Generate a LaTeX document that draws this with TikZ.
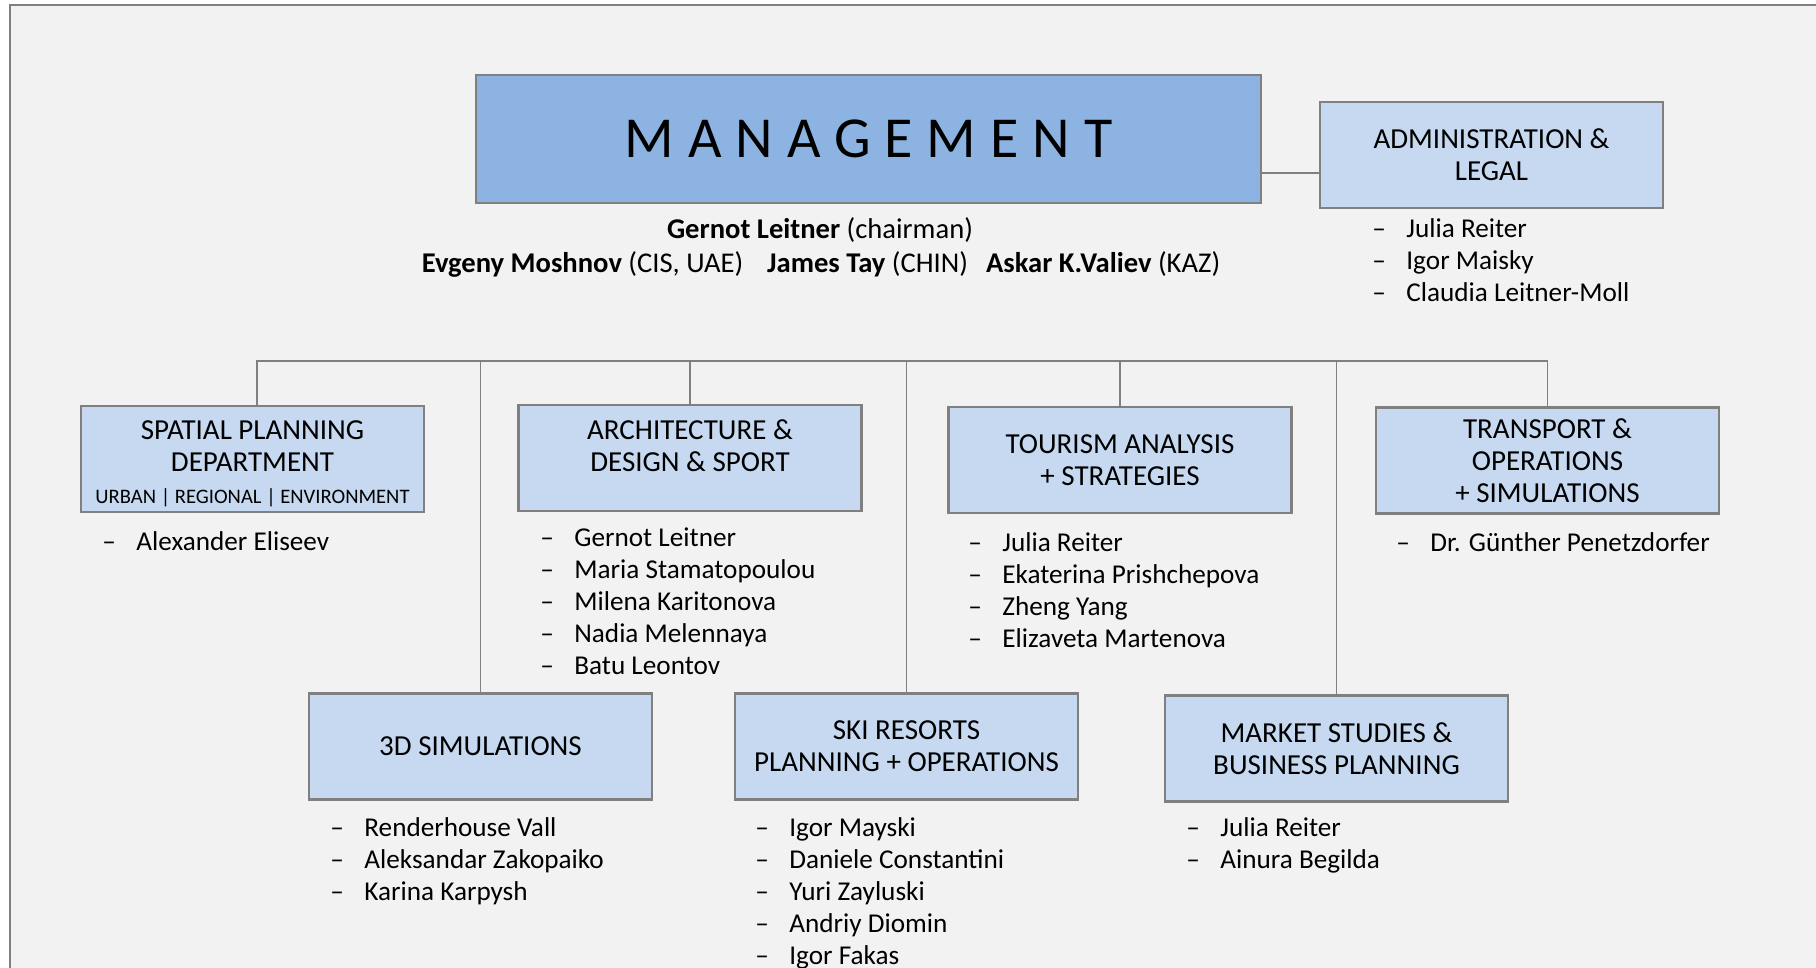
\documentclass[tikz,border=0pt]{standalone}
\usepackage{fontspec}
\setmainfont{Carlito}
\definecolor{unitblue}{HTML}{C6D9F0}
\definecolor{headblue}{HTML}{8DB3E2}
\definecolor{linegray}{HTML}{808080}
\definecolor{pagegray}{HTML}{F2F2F2}
\newcommand{\member}[1]{\strut\makebox[17pt][l]{--}#1}
\newcommand{\unitScale}[0]{0.5pt}

\begin{document}
\begin{tikzpicture}[x=\unitScale, y=-\unitScale]
  \tikzset{unit/.style={draw=linegray, fill=unitblue, line width=1.2pt, minimum width=171.5pt,
      minimum height=53pt, align=center, inner sep=2pt, font=\fontsize{14.5}{16}\selectfont},
    staff/.style={anchor=north west, align=left, inner sep=0pt, font=\fontsize{13.6}{16}\selectfont},
    link/.style={draw=linegray, line width=0.8pt}}
  \clip (0,0) rectangle (1816,968);
  \fill[white] (0,0) rectangle (1816,968);
  \draw[fill=pagegray, draw=linegray, line width=1pt] (10,5) rectangle (1840,990);
  \node[unit, fill=headblue, minimum width=392.5pt, minimum height=64pt, font=\fontsize{29}{34}\selectfont]
    (mgmt) at (868.5,139) {\addfontfeature{LetterSpace=24}MANAGEMENT};
  \node[font=\fontsize{14.3}{16}\selectfont] (chair) at (820,230) {\textbf{Gernot Leitner} (chairman)};
  \node[font=\fontsize{14.3}{16}\selectfont] (board) at (821,264)
    {\textbf{Evgeny Moshnov} (CIS, UAE)\hspace{12pt}\textbf{James Tay} (CHIN)\hspace{9pt}\textbf{Askar K.Valiev} (KAZ)};
  \node[unit] (admin) at (1491.5,155) {ADMINISTRATION \&\\LEGAL};
  \node[unit] (spatial) at (252.5,459) {\mbox{}\\[-1.5pt]SPATIAL PLANNING\\DEPARTMENT\\{\fontsize{10.3}{13}\selectfont URBAN | REGIONAL | ENVIRONMENT}};
  \node[unit] (arch) at (690,458) {ARCHITECTURE \&\\DESIGN \& SPORT\\[-4pt]\mbox{}};
  \node[unit] (tourism) at (1120,460) {TOURISM ANALYSIS\\+ STRATEGIES};
  \node[unit] (transport) at (1547.5,460.5) {TRANSPORT \&\\OPERATIONS\\+ SIMULATIONS};
  \node[unit] (sim3d) at (480.5,746.5) {3D SIMULATIONS};
  \node[unit] (ski) at (906.5,746.5) {SKI RESORTS\\PLANNING + OPERATIONS};
  \node[unit] (market) at (1336.5,748.5) {MARKET STUDIES \&\\BUSINESS PLANNING};
  \node[staff] (admin-staff) at (1372,214.6) {\member{Julia Reiter}\\\member{Igor Maisky}\\\member{Claudia Leitner-Moll}};
  \node[staff] (spatial-staff) at (102,527.6) {\member{Alexander Eliseev}};
  \node[staff] (arch-staff) at (540,523.6) {\member{Gernot Leitner}\\\member{Maria Stamatopoulou}\\\member{Milena Karitonova}\\\member{Nadia Melennaya}\\\member{Batu Leontov}};
  \node[staff] (tourism-staff) at (968,528.6) {\member{Julia Reiter}\\\member{Ekaterina Prishchepova}\\\member{Zheng Yang}\\\member{Elizaveta Martenova}};
  \node[staff] (transport-staff) at (1396,528.6) {\member{Dr. Günther Penetzdorfer}};
  \node[staff] (sim3d-staff) at (330,813.6) {\member{Renderhouse Vall}\\\member{Aleksandar Zakopaiko}\\\member{Karina Karpysh}};
  \node[staff] (ski-staff) at (755,813.6) {\member{Igor Mayski}\\\member{Daniele Constantini}\\\member{Yuri Zayluski}\\\member{Andriy Diomin}\\\member{Igor Fakas}};
  \node[staff] (market-staff) at (1186,813.6) {\member{Julia Reiter}\\\member{Ainura Begilda}};
  \coordinate (bus) at (0,361);
  \draw[link] ([yshift=-17pt]mgmt.east) -- ([yshift=-17pt]mgmt.east -| admin.west);
  \draw[link] ([xshift=2.2pt]spatial.north) -- ([xshift=2.2pt]spatial.north |- bus) -- (transport.north |- bus) -- (transport.north);
  \draw[link] (arch.north) -- (arch.north |- bus);
  \draw[link] (tourism.north) -- (tourism.north |- bus);
  \draw[link] (sim3d.north) -- (sim3d.north |- bus);
  \draw[link] (ski.north) -- (ski.north |- bus);
  \draw[link] (market.north) -- (market.north |- bus);
\end{tikzpicture}
\end{document}
